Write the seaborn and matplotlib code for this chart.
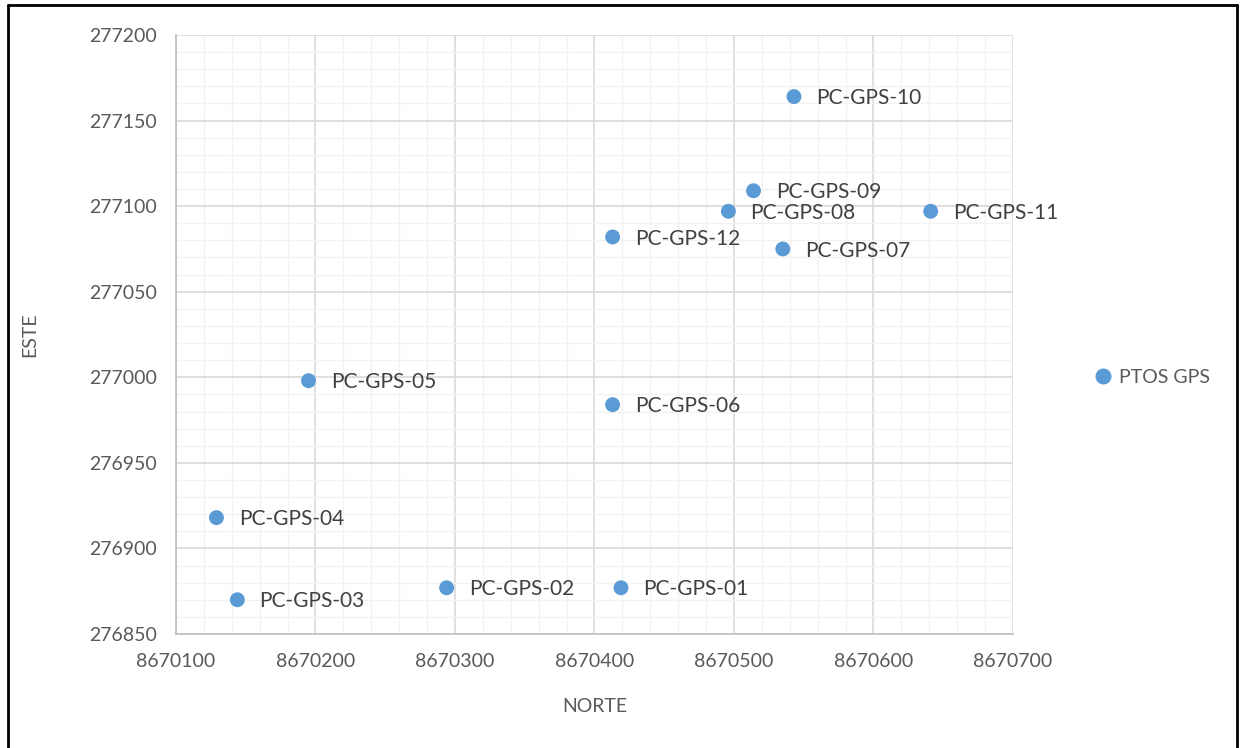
import numpy as np
import pandas as pd
import matplotlib.pyplot as plt
import seaborn as sns
from matplotlib.ticker import MultipleLocator
from matplotlib.lines import Line2D

# Points
labels = ['PC-GPS-01', 'PC-GPS-02', 'PC-GPS-03', 'PC-GPS-04', 'PC-GPS-05', 'PC-GPS-06',
          'PC-GPS-07', 'PC-GPS-08', 'PC-GPS-09', 'PC-GPS-10', 'PC-GPS-11', 'PC-GPS-12']
norte = [8670419, 8670294, 8670144, 8670129, 8670195, 8670413,
         8670535, 8670496, 8670514, 8670543, 8670641, 8670413]
este = [276877, 276877, 276870, 276918, 276998, 276984,
        277075, 277097, 277109, 277164, 277097, 277082]

df = pd.DataFrame({'NORTE': norte, 'ESTE': este, 'label': labels})

sns.set_style('white')
plt.rcParams['font.family'] = ['Lato', 'DejaVu Sans']
txt = '#595959'
blue = '#5B9BD5'

fig = plt.figure(figsize=(12.42, 7.48), dpi=100)
ax = fig.add_axes([0.1417, 0.1524, 0.6739, 0.8008])

sns.scatterplot(x='NORTE', y='ESTE', data=df, ax=ax, color=blue, s=115,
                edgecolor='none', zorder=3, legend=False)

for _, r in df.iterrows():
    ax.annotate(r['label'], (r['NORTE'], r['ESTE']), xytext=(16, -5.5),
                textcoords='offset points', fontsize=15, color='#404040')

ax.set_xlim(8670100, 8670700)
ax.set_ylim(276850, 277200)
ax.xaxis.set_major_locator(MultipleLocator(100))
ax.xaxis.set_minor_locator(MultipleLocator(20))
ax.yaxis.set_major_locator(MultipleLocator(50))
ax.yaxis.set_minor_locator(MultipleLocator(10))
ax.ticklabel_format(useOffset=False, style='plain')
ax.grid(which='major', color='#D9D9D9', linewidth=1.2)
ax.grid(which='minor', color='#F2F2F2', linewidth=1.0)
ax.set_axisbelow(True)

for s in ['top', 'right']:
    ax.spines[s].set_visible(False)
for s in ['left', 'bottom']:
    ax.spines[s].set_color('#BFBFBF')
    ax.spines[s].set_linewidth(1.2)

ax.tick_params(which='major', length=6, color='#BFBFBF', width=1.2,
               labelsize=14, labelcolor=txt, pad=8)
ax.tick_params(which='minor', length=0)
ax.set_xlabel('NORTE', fontsize=14, color=txt, labelpad=20)
ax.set_ylabel('ESTE', fontsize=14, color=txt, labelpad=36)

handle = Line2D([], [], marker='o', linestyle='none', color=blue, markersize=10.5)
fig.legend([handle], ['PTOS GPS'], loc='center left', bbox_to_anchor=(0.866, 0.495),
           frameon=False, fontsize=14, labelcolor=txt, handletextpad=0.35,
           handlelength=1.0)

# black frame around the chart
fig.add_artist(Line2D([0.0065, 0.0065], [-0.01, 0.9933], color='black', lw=2,
                      transform=fig.transFigure))
fig.add_artist(Line2D([0.0065, 0.9958], [0.9933, 0.9933], color='black', lw=2,
                      transform=fig.transFigure))
fig.add_artist(Line2D([0.9958, 0.9958], [-0.01, 0.9933], color='black', lw=2,
                      transform=fig.transFigure))

fig.savefig('out.png', dpi=100)
